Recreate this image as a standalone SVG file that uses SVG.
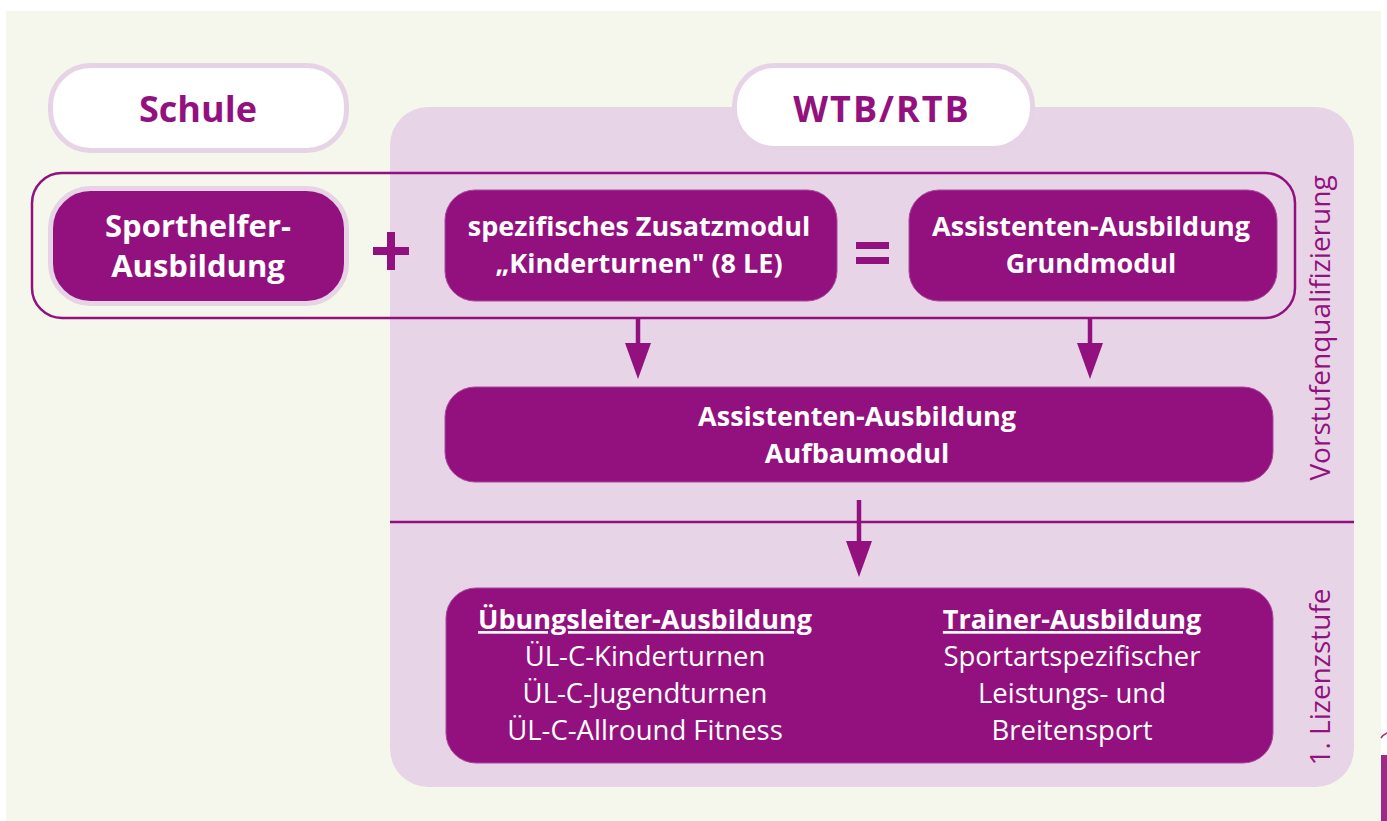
<svg xmlns="http://www.w3.org/2000/svg" width="1387" height="821" viewBox="0 0 1387 821">
<style>
.t{font-family:"Open Sans","Noto Sans","Liberation Sans",sans-serif;}
.hdr{font-size:36px;font-weight:700;fill:#93117E;text-anchor:middle;}
.wb{font-size:27px;font-weight:700;fill:#FFFFFF;text-anchor:middle;}
.wr{font-size:27.5px;font-weight:400;fill:#FFFFFF;text-anchor:middle;}
.big{font-size:31px;font-weight:700;fill:#FFFFFF;text-anchor:middle;}
.side{font-size:28px;font-weight:400;fill:#93117E;text-anchor:middle;}
.dark{fill:#93117E;stroke:#A9489C;stroke-width:1;}
.pill{fill:#FFFFFF;stroke:#E6D3E5;stroke-width:5;}
.conn{stroke:#93117E;stroke-width:4.5;fill:none;}
</style>
<defs>
<marker id="ah" viewBox="0 0 36 26" refX="0" refY="13" markerWidth="36" markerHeight="26" markerUnits="userSpaceOnUse" orient="auto">
<path d="M0,0 L36,13 L0,26 Z" fill="#93117E"/>
</marker>
</defs>
<rect x="0" y="0" width="1387" height="821" fill="#FFFFFF"/>
<rect x="6" y="11" width="1375" height="810" fill="#F6F7EC"/>
<rect x="390" y="107" width="964" height="680" rx="38" fill="#E7D5E7"/>
<line x1="390" y1="522" x2="1354" y2="522" stroke="#93117E" stroke-width="2.5"/>

<g id="schule">
<rect class="pill" x="50.5" y="65.5" width="296" height="85" rx="40"/>
<text class="t hdr" x="198" y="122">Schule</text>
</g>
<g id="wtb-rtb">
<rect class="pill" x="734.5" y="65.5" width="298" height="83" rx="40"/>
<text class="t hdr" x="882" y="122" letter-spacing="2">WTB/RTB</text>
</g>

<g id="vorstufe-rahmen">
<rect x="32" y="173" width="1263" height="145" rx="30" fill="none" stroke="#93117E" stroke-width="2.5"/>
</g>

<g id="sporthelfer">
<rect x="50.5" y="188.5" width="296" height="115" rx="40" fill="#93117E" stroke="#E6D3E5" stroke-width="5"/>
<text class="t big" x="198" y="237">Sporthelfer-</text>
<text class="t big" x="198" y="277">Ausbildung</text>
</g>

<g id="plus">
<rect x="373" y="247" width="36" height="8" fill="#93117E"/>
<rect x="387" y="232" width="8" height="38" fill="#93117E"/>
</g>

<g id="zusatzmodul">
<rect class="dark" x="445" y="190" width="392" height="111" rx="30"/>
<text class="t wb" x="639" y="236">spezifisches Zusatzmodul</text>
<text class="t wb" x="639" y="273">„Kinderturnen" (8 LE)</text>
</g>

<g id="gleich">
<rect x="856" y="242" width="33" height="7" fill="#93117E"/>
<rect x="856" y="257" width="33" height="7" fill="#93117E"/>
</g>

<g id="grundmodul">
<rect class="dark" x="909" y="190" width="368" height="111" rx="30"/>
<text class="t wb" x="1091" y="236">Assistenten-Ausbildung</text>
<text class="t wb" x="1091" y="273">Grundmodul</text>
</g>

<g id="aufbaumodul">
<rect class="dark" x="445" y="387" width="828" height="95" rx="30"/>
<text class="t wb" x="857" y="426">Assistenten-Ausbildung</text>
<text class="t wb" x="857" y="463">Aufbaumodul</text>
</g>

<g id="lizenzstufe">
<rect class="dark" x="446" y="588" width="827" height="175" rx="30"/>
<text class="t wb" x="645" y="629" text-decoration="underline">Übungsleiter-Ausbildung</text>
<text class="t wr" x="645" y="666">ÜL-C-Kinderturnen</text>
<text class="t wr" x="645" y="703">ÜL-C-Jugendturnen</text>
<text class="t wr" x="645" y="740">ÜL-C-Allround Fitness</text>
<text class="t wb" x="1072" y="629" text-decoration="underline">Trainer-Ausbildung</text>
<text class="t wr" x="1072" y="666">Sportartspezifischer</text>
<text class="t wr" x="1072" y="703">Leistungs- und</text>
<text class="t wr" x="1072" y="740">Breitensport</text>
</g>

<g id="seitenbeschriftung">
<text class="t side" transform="translate(1330,328) rotate(-90)" x="0" y="0">Vorstufenqualifizierung</text>
<text class="t side" transform="translate(1330,677) rotate(-90)" x="0" y="0">1. Lizenzstufe</text>
</g>

<g id="connectors">
<line class="conn" x1="638" y1="318" x2="638" y2="343" marker-end="url(#ah)"/>
<line class="conn" x1="1090" y1="318" x2="1090" y2="343" marker-end="url(#ah)"/>
<line class="conn" x1="859" y1="500" x2="859" y2="541" marker-end="url(#ah)"/>
</g>

<g id="seitenrand">
<rect x="1381" y="755" width="6" height="66" fill="#9B2A8A"/>
<path d="M1381,738 Q1383,735 1387,733" fill="none" stroke="#9B2A8A" stroke-width="1.5"/>
</g>
</svg>
